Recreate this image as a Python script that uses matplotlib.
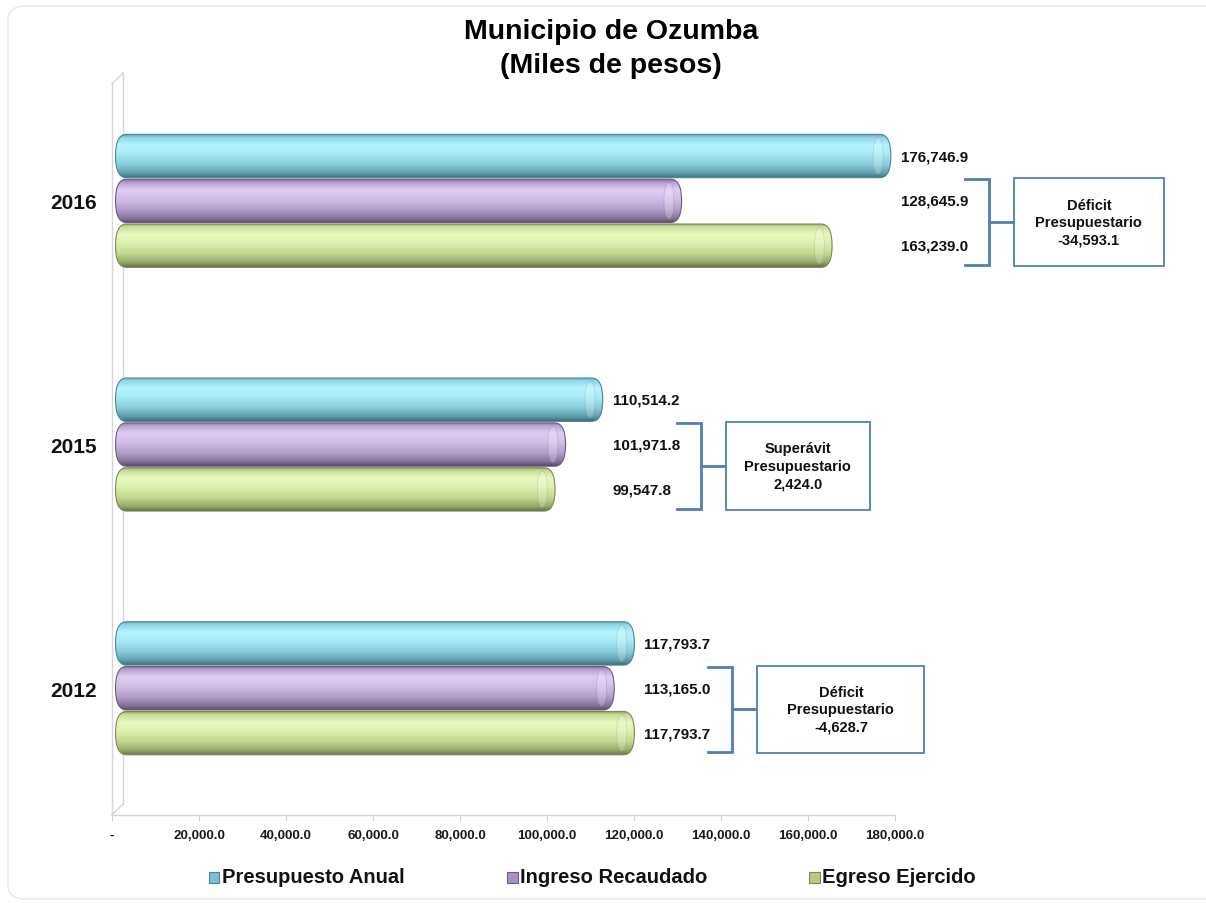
import numpy as np
import matplotlib
matplotlib.use("Agg")
import matplotlib.pyplot as plt
from matplotlib import font_manager
from matplotlib.patches import FancyBboxPatch, Rectangle
from matplotlib.colors import LinearSegmentedColormap
from matplotlib.lines import Line2D

# ---------------- data ----------------
years = ["2012", "2015", "2016"]
series = ["Presupuesto Anual", "Ingreso Recaudado", "Egreso Ejercido"]
presupuesto = [117793.7, 110514.2, 176746.9]
ingreso = [113165.0, 101971.8, 128645.9]
egreso = [117793.7, 99547.8, 163239.0]
xticks = [0, 20000, 40000, 60000, 80000, 100000, 120000, 140000, 160000, 180000]
title = "Municipio de Ozumba\n(Miles de pesos)"

# ---------------- fonts ----------------
names = {f.name for f in font_manager.fontManager.ttflist}
NARROW = "Liberation Sans Narrow" if "Liberation Sans Narrow" in names else "Liberation Sans"
REG = "Liberation Sans"
nscale = 1.0 if NARROW == "Liberation Sans Narrow" else 0.84

# ---------------- layout (pixels) ----------------
W, H = 1206, 904
AX_L, AX_R, AX_T, AX_B = 112, 895, 80, 816
YLIM = (-0.52, 2.5)
fig = plt.figure(figsize=(W / 100, H / 100), dpi=100)
fig.patch.set_facecolor("white")
ax = fig.add_axes([AX_L / W, 1 - AX_B / H, (AX_R - AX_L) / W, (AX_B - AX_T) / H])
ax.set_facecolor("none")
ax.set_xlim(0, 180000)
ax.set_ylim(*YLIM)
UX = 180000 / (AX_R - AX_L)              # data x units per pixel
UY = (YLIM[1] - YLIM[0]) / (AX_B - AX_T)  # data y units per pixel

def fx(px):
    return px / W

def fy(py):
    return 1 - py / H

# ---------------- colours ----------------
cmaps = [
    LinearSegmentedColormap.from_list("c", [(0, "#5d9fae"), (0.08, "#8fd6e6"), (0.25, "#b6f4fd"),
                                           (0.45, "#a8ebf6"), (0.7, "#88cbda"), (0.9, "#5f9caa"), (1, "#3e6d78")]),
    LinearSegmentedColormap.from_list("p", [(0, "#7d6a92"), (0.08, "#b9a3d2"), (0.25, "#dfcdf3"),
                                           (0.45, "#d2bfe8"), (0.7, "#b39ecb"), (0.9, "#85729a"), (1, "#584868")]),
    LinearSegmentedColormap.from_list("g", [(0, "#8a9a5e"), (0.08, "#c9dc97"), (0.25, "#e8f8be"),
                                           (0.45, "#ddf0b0"), (0.7, "#c3d78f"), (0.9, "#94a767"), (1, "#646f48")]),
]
edge_cols = ["#4e8593", "#6d5c80", "#7b8a55"]
grad = np.linspace(0, 1, 256).reshape(-1, 1)

BAR_OFF = 0.184
BAR_H = 0.178
CAP_PX = 11
START_PX = 3.5
END_PX = 10

def cylinder(x_end, yc, k):
    x0 = START_PX * UX
    x1 = x_end + END_PX * UX
    rx = CAP_PX * UX
    a = (BAR_H / 2) / rx
    patch = FancyBboxPatch((x0, yc - BAR_H / 2), x1 - x0, BAR_H,
                           boxstyle=f"round,pad=0,rounding_size={rx * 0.999}",
                           mutation_aspect=a, facecolor="none",
                           edgecolor=edge_cols[k], lw=0.8, zorder=3)
    ax.add_patch(patch)
    im = ax.imshow(grad, extent=(x0, x1, yc - BAR_H / 2, yc + BAR_H / 2), aspect="auto",
                   cmap=cmaps[k], origin="upper", interpolation="bicubic", zorder=2)
    im.set_clip_path(patch)
    # end cap of the cylinder
    cap = FancyBboxPatch((x1 - 2 * rx * 0.8, yc - BAR_H * 0.42), rx * 0.9, BAR_H * 0.84,
                         boxstyle=f"round,pad=0,rounding_size={rx * 0.45}",
                         mutation_aspect=(BAR_H * 0.42) / (rx * 0.45),
                         facecolor="white", alpha=0.22, edgecolor=edge_cols[k], lw=0.6, zorder=4)
    ax.add_patch(cap)

vals = [presupuesto, ingreso, egreso]
offsets = [BAR_OFF, 0.0, -BAR_OFF]
for g in range(len(years)):
    for k in range(3):
        cylinder(vals[k][g], g + offsets[k], k)

ax.set_xlim(0, 180000)
ax.set_ylim(*YLIM)

# ---------------- axes styling ----------------
for s in ["top", "right", "left"]:
    ax.spines[s].set_visible(False)
ax.spines["bottom"].set_color("#d4d4d4")
ax.spines["bottom"].set_linewidth(1.0)
ax.set_xticks(xticks)
ax.set_xticklabels(["-" if v == 0 else f"{v:,.1f}" for v in xticks],
                   fontfamily=NARROW, fontweight="bold", fontsize=11.5 * nscale, color="#1a1a1a")
ax.tick_params(axis="x", length=4, color="#d4d4d4", pad=6)
ax.set_yticks(range(len(years)))
ax.set_yticklabels(years, fontfamily=REG, fontweight="bold", fontsize=15, color="#111111")
ax.tick_params(axis="y", length=0, pad=11)

# 3D wall lines (behind the bars)
wall = "#d6d6d6"
for (xa, ya, xb, yb) in [(112, 85, 112, 816), (123, 74, 123, 805), (112, 85, 123, 74), (112, 816, 123, 805)]:
    fig.add_artist(Line2D([fx(xa), fx(xb)], [fy(ya), fy(yb)], color=wall, lw=1.0, zorder=-1))

# ---------------- value labels, brackets, boxes ----------------
LABEL_GAP = 20 * UX
BRACKET_DX = 88 * UX
TICK_LEN = 24 * UX
BOX_GAP = 25 * UX
box_w_px = [167, 144, 150]
BOX_H = 0.36
blue = "#4f7fba"
for g in range(len(years)):
    gmax = max(presupuesto[g], ingreso[g], egreso[g])
    lx = gmax + LABEL_GAP
    for k in range(3):
        ax.text(lx, g + offsets[k], f"{vals[k][g]:,.1f}", ha="left", va="center",
                fontfamily=NARROW, fontweight="bold", fontsize=13 * nscale, color="#111111",
                clip_on=False, zorder=5)
    bx = lx + BRACKET_DX
    ytop = g + BAR_H / 2
    ybot = g - BAR_OFF - BAR_H / 2 + 0.01
    ymid = (ytop + ybot) / 2
    ax.plot([bx - TICK_LEN, bx, bx, bx - TICK_LEN], [ytop, ytop, ybot, ybot],
            color=blue, lw=2, clip_on=False, solid_joinstyle="miter")
    ax.plot([bx, bx + BOX_GAP], [ymid, ymid], color=blue, lw=2, clip_on=False)
    bw = box_w_px[g] * UX
    ax.add_patch(Rectangle((bx + BOX_GAP, ymid - BOX_H / 2), bw, BOX_H, facecolor="white",
                           edgecolor=blue, lw=1.3, clip_on=False, zorder=5))
    bal = ingreso[g] - egreso[g]
    kind = "Déficit" if bal < 0 else "Superávit"
    ax.text(bx + BOX_GAP + bw / 2, ymid, f"{kind}\nPresupuestario\n{bal:,.1f}",
            ha="center", va="center", multialignment="center", linespacing=1.3,
            fontfamily=NARROW, fontweight="bold", fontsize=12.5 * nscale, color="#111111",
            clip_on=False, zorder=6)

# ---------------- title ----------------
fig.text(fx(611), fy(49), title, ha="center", va="center", fontfamily=REG, fontweight="bold",
         fontsize=20.5, linespacing=1.4, color="#000000")

# ---------------- legend ----------------
leg_x = [214, 512, 814]
leg_y = 878
for k in range(3):
    sq = Rectangle((fx(leg_x[k] - 5.5), fy(leg_y + 5.5)), 11 / W, 11 / H, transform=fig.transFigure,
                   facecolor=cmaps[k](0.75), edgecolor=edge_cols[k], lw=0.8)
    fig.add_artist(sq)
    fig.text(fx(leg_x[k] + 8), fy(leg_y), series[k], ha="left", va="center",
             fontfamily=REG, fontweight="bold", fontsize=14.5, color="#111111")

# faint chart frame
fig.add_artist(FancyBboxPatch((fx(8), fy(900)), 1.2, fy(7) - fy(900), transform=fig.transFigure,
                              boxstyle="round,pad=0,rounding_size=0.015", facecolor="none",
                              edgecolor="#e8e8e8", lw=1.0, zorder=-2))

fig.savefig("out.png", dpi=100, facecolor="white")
